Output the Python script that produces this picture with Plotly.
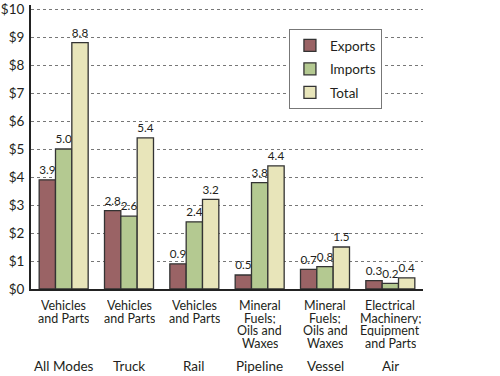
import plotly.graph_objects as go

modes = ["All Modes", "Truck", "Rail", "Pipeline", "Vessel", "Air"]
commodities = ["Vehicles<br>and Parts", "Vehicles<br>and Parts", "Vehicles<br>and Parts",
               "Mineral<br>Fuels;<br>Oils and<br>Waxes", "Mineral<br>Fuels;<br>Oils and<br>Waxes",
               "Electrical<br>Machinery;<br>Equipment<br>and Parts"]
exports = [3.9, 2.8, 0.9, 0.5, 0.7, 0.3]
imports = [5.0, 2.6, 2.4, 3.8, 0.8, 0.2]
total = [8.8, 5.4, 3.2, 4.4, 1.5, 0.4]
yticks = [0, 1, 2, 3, 4, 5, 6, 7, 8, 9, 10]

FONT = "Lato"
TXT = "#231f20"
x = list(range(len(modes)))

fig = go.Figure()
for name, vals, col in [("Exports", exports, "#9a6365"),
                        ("Imports", imports, "#b4c991"),
                        ("Total", total, "#e8e5ba")]:
    fig.add_trace(go.Bar(
        x=x, y=vals, name=name, legendgroup=name,
        marker=dict(color=col, line=dict(color="#333333", width=1.3)),
        text=[f"{v:.1f}" for v in vals], textposition="outside", cliponaxis=False,
        textfont=dict(family=FONT, size=12.5, color=TXT),
    ))

for i, c in enumerate(commodities):
    for j, line in enumerate(c.split("<br>")):
        fig.add_annotation(x=i, y=0, xref="x", yref="paper", yanchor="middle",
                           yshift=-16 - 12.5 * j, text=line, showarrow=False,
                           height=12, borderpad=0,
                           font=dict(family=FONT, size=12.5, color=TXT))
for i, m in enumerate(modes):
    fig.add_annotation(x=i, y=0, xref="x", yref="paper", yanchor="middle", yshift=-77,
                       text=m, showarrow=False, font=dict(family=FONT, size=13.5, color=TXT))

fig.update_layout(
    width=500, height=376, paper_bgcolor="white", plot_bgcolor="white",
    margin=dict(l=31, r=77, t=5, b=87, autoexpand=False),
    barmode="group", bargap=0.25, bargroupgap=0,
    font=dict(family=FONT, size=12, color=TXT),
    legend=dict(x=0.658, y=(289 - 29) / 284, xanchor="left", yanchor="top", bgcolor="white",
                bordercolor="#777", borderwidth=1, font=dict(family=FONT, size=13.5, color=TXT),
                itemwidth=30, tracegroupgap=3),
    showlegend=True,
)
fig.update_xaxes(tickmode="array", tickvals=x, ticktext=["" for _ in x], range=[-0.5, 5.5],
                 showline=True, linecolor="#222", linewidth=2, ticks="", showgrid=False,
                 automargin=False)
fig.update_yaxes(range=[0, 284 / 28], tickvals=yticks, ticktext=[f"${v}" for v in yticks],
                 showline=True, linecolor="#222", linewidth=2, ticks="", automargin=False,
                 showgrid=True, gridcolor="#777", griddash="dot", gridwidth=1,
                 ticklabelstandoff=2,
                 tickfont=dict(family=FONT, size=13.5, color=TXT), zeroline=False)

fig.write_html("out.html", config={"displayModeBar": False},
               post_script="document.body.style.margin='0';document.body.style.overflow='hidden';")
